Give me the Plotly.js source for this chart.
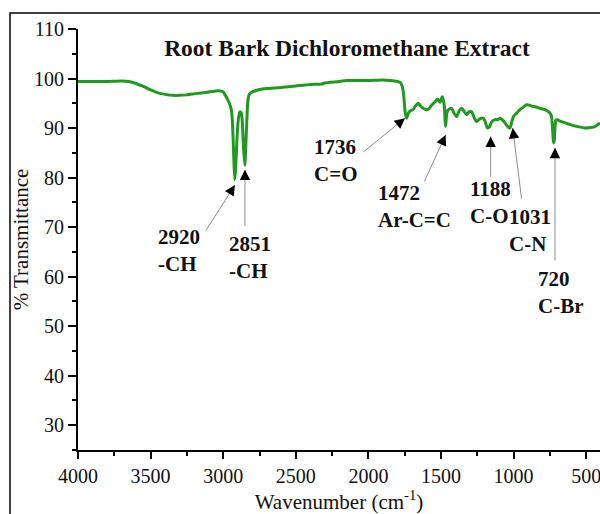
<!DOCTYPE html>
<html>
<head>
<meta charset="utf-8">
<script src="https://cdn.plot.ly/plotly-3.0.1.min.js"></script>
<style>
  html, body { margin: 0; padding: 0; background: #fff; }
  #chart { width: 600px; height: 514px; }
</style>
</head>
<body>
<div id="chart"></div>
<script>
// ---- Data ----
const wavenumber = [
  4000, 3900, 3800, 3700, 3650, 3600, 3550, 3500, 3450, 3400, 3350, 3300, 3250, 3200,
  3150, 3100, 3050, 3020, 3000, 2985, 2970, 2955, 2945, 2938, 2932, 2926, 2920, 2914,
  2905, 2895, 2885, 2875, 2868, 2860, 2851, 2845, 2838, 2830, 2820, 2800, 2750, 2700,
  2600, 2500, 2400, 2322, 2300, 2200, 2150, 2100, 2000, 1900, 1850, 1800, 1780, 1765,
  1755, 1748, 1740, 1736, 1725, 1710, 1690, 1675, 1656, 1640, 1622, 1600, 1587, 1565,
  1541, 1525, 1515, 1507, 1500, 1491, 1483, 1477, 1472, 1468, 1462, 1455, 1440, 1427,
  1410, 1392, 1375, 1358, 1340, 1323, 1305, 1289, 1270, 1254, 1235, 1208, 1195, 1180,
  1165, 1150, 1128, 1110, 1094, 1075, 1059, 1040, 1025, 1015, 1002, 980, 956, 930,
  910, 890, 870, 852, 820, 784, 760, 749, 738, 730, 725, 720, 715, 710,
  703, 680, 669, 630, 600, 560, 508, 470, 440, 420, 405
];
const transmittance = [
  99.4, 99.4, 99.4, 99.5, 99.4, 99.0, 98.4, 97.7, 97.1, 96.8, 96.6, 96.6, 96.7, 96.9,
  97.1, 97.3, 97.5, 97.5, 97.3, 96.6, 95.8, 94.8, 93.8, 92.0, 88.0, 83.0, 79.6, 82.0,
  88.0, 92.0, 93.3, 93.0, 91.0, 86.0, 82.5, 86.0, 91.0, 95.5, 96.8, 97.3, 97.8, 98.0,
  98.2, 98.5, 98.8, 98.9, 99.1, 99.4, 99.6, 99.6, 99.6, 99.7, 99.6, 99.4, 99.2, 98.2,
  96.0, 93.5, 92.3, 92.0, 93.0, 93.5, 93.8, 94.5, 95.0, 94.4, 94.0, 93.7, 93.8, 94.6,
  95.3, 95.8, 95.6, 95.2, 95.8, 96.3, 95.5, 94.5, 91.5, 90.3, 92.5, 93.5, 93.9, 94.0,
  93.0, 92.3, 93.5, 94.0, 93.3, 92.7, 93.3, 93.3, 92.0, 91.3, 91.8, 92.0, 91.2, 90.0,
  90.3, 91.3, 91.7, 91.7, 92.0, 91.6, 91.0, 90.3, 90.0, 91.0, 92.3, 93.0, 93.7, 94.3,
  94.7, 94.6, 94.4, 94.3, 94.0, 93.7, 93.3, 93.0, 92.2, 89.0, 87.0, 87.5, 90.0, 91.5,
  91.7, 91.4, 91.3, 90.9, 90.6, 90.3, 90.0, 90.1, 90.3, 90.7, 91.0
];

// Peak labels
const peakWn    = [2920, 2851, 1736, 1472, 1188, 1031, 720];
const peakGroup = ['-CH', '-CH', 'C=O', 'Ar-C=C', 'C-O', 'C-N', 'C-Br'];
// Where each arrow points (data coordinates, as drawn in the reference)
const tipWn = [2919, 2850, 1748, 1468, 1158, 1006, 715];
const tipT  = [78.5, 81.6, 92.0, 88.6, 88.3, 90.0, 86.0];

const titleText = 'Root Bark Dichloromethane Extract';
const xTitle = 'Wavenumber (cm<sup>-1</sup>)';
const yTitle = '% Transmittance';

// ---- Layout geometry (pixels) ----
const W = 600, H = 514;
const M = { l: 78, r: 0, t: 29, b: 64 };
const PW = W - M.l - M.r, PH = H - M.t - M.b;
const px2x = px => (px - M.l) / PW;
const py2y = py => (H - M.b - py) / PH;

// arrow tail offsets (px) and label block anchors (px)
const tailDx = [-30, 0, -43, -22, 0, 9, 0];
const tailDy = [47, 58, 35, 48, 42, 72, 114];
const labelX = [156, 227, 312, 376, 468, 507, 536];
const labelY = [250, 257, 160, 207, 202, 230, 292];

const serif = 'Liberation Serif';

const annotations = [];
peakWn.forEach((wn, i) => {
  // grey shaft
  annotations.push({
    x: tipWn[i], y: tipT[i], xref: 'x', yref: 'y',
    ax: tailDx[i], ay: tailDy[i], axref: 'pixel', ayref: 'pixel',
    text: '', showarrow: true, arrowhead: 0, arrowwidth: 1, arrowcolor: '#8c8c8c'
  });
  // black head
  const L = Math.hypot(tailDx[i], tailDy[i]);
  const h = 9;
  annotations.push({
    x: tipWn[i], y: tipT[i], xref: 'x', yref: 'y',
    ax: tailDx[i] * h / L, ay: tailDy[i] * h / L, axref: 'pixel', ayref: 'pixel',
    text: '', showarrow: true, arrowhead: 2, arrowsize: 1.3, arrowwidth: 1.6, arrowcolor: '#000'
  });
  // label
  annotations.push({
    x: px2x(labelX[i]), y: py2y(labelY[i]), xref: 'paper', yref: 'paper',
    xanchor: 'left', yanchor: 'middle', align: 'left', showarrow: false,
    text: '<b>' + wn + '<br>' + peakGroup[i] + '</b>',
    font: { family: serif, size: 21, color: '#111' }
  });
});

const trace = {
  x: wavenumber, y: transmittance, type: 'scatter', mode: 'lines',
  line: { color: '#1f9a1f', width: 3, shape: 'spline', smoothing: 0.6 },
  hoverinfo: 'skip'
};

const layout = {
  width: W, height: H,
  margin: M,
  paper_bgcolor: '#fff', plot_bgcolor: '#fff',
  showlegend: false,
  font: { family: serif, color: '#111' },
  title: {
    text: '<b>' + titleText + '</b>',
    font: { family: serif, size: 23.5, color: '#111' },
    xref: 'paper', x: px2x(347), xanchor: 'center',
    yref: 'container', y: 1 - 48 / H, yanchor: 'middle'
  },
  xaxis: {
    range: [4000, 405], tickmode: 'linear', tick0: 500, dtick: 500,
    showline: true, linecolor: '#000', linewidth: 2,
    ticks: 'outside', ticklen: 7, tickwidth: 2, tickcolor: '#000',
    minor: { dtick: 250, tick0: 0, ticks: 'outside', ticklen: 4, tickwidth: 2, tickcolor: '#000' },
    showgrid: false, zeroline: false, ticklabeloverflow: 'allow',
    tickfont: { family: serif, size: 20, color: '#111' },
    title: { text: xTitle, font: { family: serif, size: 21, color: '#111' }, standoff: 9 }
  },
  yaxis: {
    range: [25, 110], tickmode: 'linear', tick0: 30, dtick: 10,
    showline: true, linecolor: '#000', linewidth: 2,
    ticks: 'outside', ticklen: 8, tickwidth: 2, tickcolor: '#000',
    minor: { dtick: 5, tick0: 25, ticks: 'outside', ticklen: 4, tickwidth: 2, tickcolor: '#000' },
    showgrid: false, zeroline: false,
    tickfont: { family: serif, size: 20, color: '#111' },
    title: { text: yTitle, font: { family: serif, size: 21, color: '#111' }, standoff: 0 }
  },
  shapes: [{
    type: 'rect', xref: 'paper', yref: 'paper',
    x0: px2x(10), x1: px2x(640), y0: py2y(560), y1: py2y(13),
    line: { color: '#000', width: 1.5 }, layer: 'above'
  }],
  annotations: annotations
};

Plotly.newPlot('chart', [trace], layout, { displayModeBar: false, staticPlot: true });
</script>
</body>
</html>
